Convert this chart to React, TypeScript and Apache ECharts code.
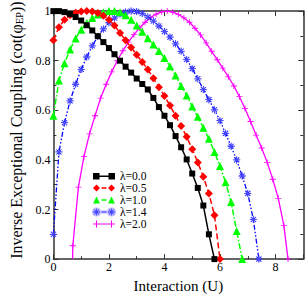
import React, { useEffect, useRef } from 'react';
import * as echarts from 'echarts';

// ---- Data ----
const seriesNames = ['λ=0.0', 'λ=0.5', 'λ=1.0', 'λ=1.4', 'λ=2.0'];

const blackU = [0, 0.2, 0.4, 0.6, 0.8, 1.0, 1.2, 1.4, 1.6, 1.8, 2.0, 2.2, 2.4, 2.6, 2.8, 3.0, 3.2, 3.4, 3.6, 3.8, 4.0, 4.2, 4.4, 4.6, 4.8, 5.0, 5.2, 5.4, 5.6, 5.8];
const blackV = [1.0, 1.0, 0.996, 0.988, 0.976, 0.962, 0.943, 0.922, 0.899, 0.875, 0.851, 0.826, 0.8, 0.776, 0.752, 0.728, 0.706, 0.684, 0.65, 0.613, 0.578, 0.54, 0.496, 0.451, 0.402, 0.345, 0.287, 0.216, 0.1, 0.0];

const redU = [0, 0.2, 0.4, 0.6, 0.8, 1.0, 1.2, 1.4, 1.6, 1.8, 2.0, 2.2, 2.4, 2.6, 2.8, 3.0, 3.2, 3.4, 3.6, 3.8, 4.0, 4.2, 4.4, 4.6, 4.8, 5.0, 5.2, 5.4, 5.6, 5.8, 6.0];
const redV = [0.882, 0.935, 0.965, 0.983, 0.993, 0.998, 1.0, 0.998, 0.992, 0.981, 0.965, 0.942, 0.912, 0.882, 0.853, 0.824, 0.795, 0.765, 0.729, 0.693, 0.658, 0.619, 0.578, 0.537, 0.493, 0.443, 0.39, 0.332, 0.265, 0.177, 0.0];

const greenU = [0, 0.2, 0.4, 0.6, 0.8, 1.0, 1.2, 1.4, 1.6, 1.8, 2.0, 2.2, 2.4, 2.6, 2.8, 3.0, 3.2, 3.4, 3.6, 3.8, 4.0, 4.2, 4.4, 4.6, 4.8, 5.0, 5.2, 5.4, 5.6, 5.8, 6.0, 6.2, 6.4, 6.6, 6.8];
const greenV = [0.578, 0.72, 0.79, 0.845, 0.89, 0.925, 0.952, 0.972, 0.986, 0.995, 1.0, 1.0, 0.995, 0.983, 0.965, 0.942, 0.917, 0.891, 0.865, 0.839, 0.811, 0.778, 0.74, 0.698, 0.66, 0.615, 0.574, 0.53, 0.485, 0.432, 0.375, 0.31, 0.23, 0.113, 0.0];

const blueU = [0, 0.2, 0.4, 0.6, 0.8, 1.0, 1.2, 1.4, 1.6, 1.8, 2.0, 2.2, 2.4, 2.6, 2.8, 3.0, 3.2, 3.4, 3.6, 3.8, 4.0, 4.2, 4.4, 4.6, 4.8, 5.0, 5.2, 5.4, 5.6, 5.8, 6.0, 6.2, 6.4, 6.6, 6.8, 7.0, 7.2, 7.4];
const blueV = [0.1, 0.432, 0.55, 0.638, 0.705, 0.765, 0.815, 0.86, 0.898, 0.928, 0.953, 0.972, 0.987, 0.996, 1.0, 0.998, 0.99, 0.976, 0.96, 0.94, 0.918, 0.895, 0.868, 0.838, 0.805, 0.768, 0.727, 0.684, 0.643, 0.602, 0.558, 0.507, 0.455, 0.4, 0.335, 0.265, 0.16, 0.0];

const magentaU = [0.69, 0.7, 0.9, 1.1, 1.3, 1.5, 1.7, 1.9, 2.1, 2.3, 2.5, 2.7, 2.9, 3.1, 3.3, 3.5, 3.7, 3.9, 4.1, 4.3, 4.5, 4.7, 4.9, 5.1, 5.3, 5.5, 5.7, 5.9, 6.1, 6.3, 6.5, 6.7, 6.9, 7.1, 7.3, 7.5, 7.7, 7.9, 8.1, 8.3, 8.45];
const magentaV = [0.0, 0.054, 0.29, 0.413, 0.505, 0.578, 0.649, 0.705, 0.755, 0.8, 0.84, 0.875, 0.905, 0.932, 0.955, 0.974, 0.988, 0.997, 1.0, 0.996, 0.987, 0.973, 0.955, 0.931, 0.904, 0.872, 0.838, 0.804, 0.77, 0.735, 0.698, 0.655, 0.607, 0.555, 0.5, 0.448, 0.39, 0.322, 0.245, 0.135, 0.0];

const xTicks = { min: 0, max: 9, interval: 2 };
const yTicks = { min: 0, max: 1, interval: 0.2 };

// ---- Styles ----
const FONT = "'Liberation Serif', 'Times New Roman', serif";
const AXIS_COLOR = '#333';

const STAR =
  'path://M3.1,0L3.9,0L3.9,7L3.1,7Z M0,3.1L7,3.1L7,3.9L0,3.9Z M1.283,0.717L6.283,5.717L5.717,6.283L0.717,1.283Z M6.283,1.283L1.283,6.283L0.717,5.717L5.717,0.717Z';
const PLUS = 'path://M3,0L4,0L4,3L7,3L7,4L4,4L4,7L3,7L3,4L0,4L0,3L3,3Z';

const starAt = (dx: number) =>
  `M${3.1 + dx},0L${3.9 + dx},0L${3.9 + dx},7L${3.1 + dx},7Z M${dx},3.1L${7 + dx},3.1L${7 + dx},3.9L${dx},3.9Z M${1.283 + dx},0.717L${6.283 + dx},5.717L${5.717 + dx},6.283L${0.717 + dx},1.283Z M${6.283 + dx},1.283L${1.283 + dx},6.283L${0.717 + dx},5.717L${5.717 + dx},0.717Z`;

const LEGEND_ICONS = [
  'path://M0,0.5L6.5,0.5L6.5,7L0,7Z M6.5,3L15.5,3L15.5,4.5L6.5,4.5Z M15.5,0.5L22,0.5L22,7L15.5,7Z M0,0L0.01,0L0.01,0.01Z',
  'path://M0,3.5L3.5,0L7,3.5L3.5,7Z M8.5,2.8L13.5,2.8L13.5,4.2L8.5,4.2Z M15,3.5L18.5,0L22,3.5L18.5,7Z',
  'path://M0,7L3.5,0L7,7Z M8.5,2.8L13.5,2.8L13.5,4.2L8.5,4.2Z M15,7L18.5,0L22,7Z',
  'path://' + starAt(0) + ' M8.5,3L13.5,3L13.5,4L8.5,4Z ' + starAt(15),
  'path://M0,3L22,3L22,4L0,4Z M3,0L4,0L4,7L3,7Z M18,0L19,0L19,7L18,7Z',
];

const pairs = (u: number[], v: number[]) => u.map((x, i) => [x, v[i]]);

function axisCommon(show: boolean) {
  return {
    axisLine: { show: true, onZero: false, lineStyle: { color: AXIS_COLOR, width: 1.5 } },
    axisTick: { show: true, inside: true, length: 5, lineStyle: { color: AXIS_COLOR, width: 1 } },
    minorTick: { show: true, splitNumber: 2, length: 3, lineStyle: { color: AXIS_COLOR, width: 1 } },
    splitLine: { show: false },
    minorSplitLine: { show: false },
    axisLabel: { show, fontFamily: FONT, fontSize: 12, color: '#000', showMaxLabel: false },
  };
}

export default function App() {
  const ref = useRef<HTMLDivElement>(null);

  useEffect(() => {
    if (!ref.current) return;
    const chart = echarts.init(ref.current, null, { renderer: 'svg' });

    const magentaData = pairs(magentaU, magentaV).map((p, i) =>
      i === 0 ? { value: p, symbol: 'none' } : p
    );

    chart.setOption({
      animation: false,
      backgroundColor: '#fff',
      grid: { left: 43.3, right: 1.7, top: 4.7, bottom: 35.7, containLabel: false },
      legend: {
        orient: 'vertical',
        left: 92,
        top: 170,
        padding: 0,
        itemGap: 0,
        itemWidth: 22,
        itemHeight: 7,
        textStyle: { fontFamily: FONT, fontSize: 11.5, color: '#000', lineHeight: 11.75 },
        data: seriesNames.map((n, i) => ({ name: n, icon: LEGEND_ICONS[i] })),
      },
      xAxis: [
        {
          type: 'value',
          ...xTicks,
          position: 'bottom',
          name: 'Interaction (U)',
          nameLocation: 'middle',
          nameGap: 17.5,
          nameTextStyle: { fontFamily: FONT, fontSize: 15, color: '#000' },
          ...axisCommon(true),
          axisLabel: { ...axisCommon(true).axisLabel, margin: 2 },
        },
        {
          type: 'value',
          ...xTicks,
          position: 'top',
          ...axisCommon(false),
        },
      ],
      yAxis: [
        {
          type: 'value',
          ...yTicks,
          position: 'left',
          name: '{a|Inverse Exceptional Coupling (cot(φ}{s|EP}{a|))}',
          nameLocation: 'middle',
          nameGap: 28,
          nameTextStyle: {
            fontFamily: FONT,
            fontSize: 16,
            color: '#000',
            padding: [0, 0, 0, 10],
            rich: {
              a: { fontFamily: FONT, fontSize: 16, color: '#000', lineHeight: 17 },
              s: { fontFamily: FONT, fontSize: 10.5, color: '#000', lineHeight: 4, verticalAlign: 'bottom' },
            },
          },
          ...axisCommon(true),
          axisLabel: { ...axisCommon(true).axisLabel, margin: 3, showMaxLabel: true },
        },
        {
          type: 'value',
          ...yTicks,
          position: 'right',
          ...axisCommon(false),
        },
      ],
      series: [
        {
          name: seriesNames[0],
          type: 'line',
          data: pairs(blackU, blackV),
          symbol: 'rect',
          symbolSize: 6,
          itemStyle: { color: '#000000' },
          lineStyle: { color: '#000000', width: 1.5 },
          z: 5,
        },
        {
          name: seriesNames[1],
          type: 'line',
          data: pairs(redU, redV),
          symbol: 'diamond',
          symbolSize: 8,
          itemStyle: { color: '#ff0000' },
          lineStyle: { color: '#ff0000', width: 1.5, type: [6, 3] },
          z: 4,
        },
        {
          name: seriesNames[2],
          type: 'line',
          data: pairs(greenU, greenV),
          symbol: 'triangle',
          symbolSize: 8,
          itemStyle: { color: '#00ff00' },
          lineStyle: { color: '#00ff00', width: 1.5, type: [6, 2, 1.5, 2] },
          z: 3,
        },
        {
          name: seriesNames[3],
          type: 'line',
          data: pairs(blueU, blueV),
          symbol: STAR,
          symbolSize: 7,
          itemStyle: { color: '#0000ff', borderColor: 'rgba(120,120,255,0.5)', borderWidth: 0.5 },
          lineStyle: { color: '#0000ff', width: 1.3, type: [5, 2, 1.5, 2, 1.5, 2] },
          z: 2,
        },
        {
          name: seriesNames[4],
          type: 'line',
          data: magentaData,
          symbol: PLUS,
          symbolSize: 6,
          itemStyle: { color: '#ff00ff' },
          lineStyle: { color: '#ff00ff', width: 1.3 },
          z: 1,
        },
      ],
    });

    return () => chart.dispose();
  }, []);

  return (
    <div
      ref={ref}
      style={{ position: 'fixed', left: 0, top: 0, width: 305, height: 298, background: '#fff' }}
    />
  );
}
